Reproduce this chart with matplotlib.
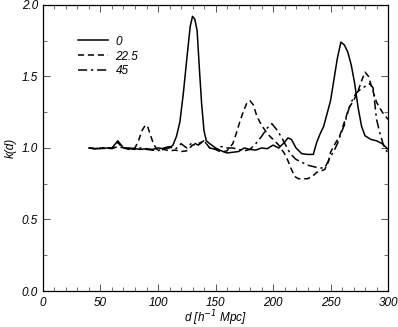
import matplotlib
matplotlib.use("Agg")
import matplotlib.pyplot as plt
from matplotlib.ticker import MultipleLocator

# angle 0 (solid)
d_0 = [40, 45, 50, 55, 60, 63, 65, 67, 70, 75, 80, 85, 90, 95, 100,
       105, 110, 113, 116, 119, 122, 125, 128, 130, 132, 134, 136, 138, 140, 142, 145,
       150, 155, 160, 165, 170, 175, 180, 185, 190, 195, 200, 205, 210,
       213, 216, 220, 225, 230, 235, 238, 241, 244, 247, 250, 253, 256, 259, 262, 265,
       268, 271, 274, 277, 280, 285, 290, 295, 300]
k_0 = [1.0, 0.995, 0.995, 1.0, 1.0, 1.03, 1.05, 1.03, 1.0, 1.0, 0.995, 0.99, 0.995, 0.99, 1.0,
       0.995, 1.0, 1.02, 1.08, 1.18, 1.38, 1.62, 1.85, 1.92, 1.9, 1.82, 1.55, 1.3, 1.12, 1.05, 1.03,
       1.0, 0.98, 0.965, 0.97, 0.975, 1.0, 0.99, 0.985, 1.0, 0.995, 1.02, 1.0, 1.04,
       1.07, 1.06, 1.0, 0.96, 0.955, 0.955, 1.04, 1.1, 1.15, 1.24, 1.33, 1.48, 1.63, 1.74, 1.72, 1.67,
       1.58, 1.45, 1.28, 1.15, 1.085, 1.06, 1.05, 1.03, 0.99]

# angle 22.5 (dashed)
d_22 = [40, 45, 50, 55, 60, 63, 65, 67, 70, 75, 80, 83, 86, 89, 91, 93, 96, 99,
        102, 105, 110, 115, 120, 125, 130, 135, 140, 145, 150, 155, 160, 165, 168, 171, 174, 177, 180,
        183, 186, 190, 195, 200, 205, 210, 213, 216, 219, 222, 226, 230, 234, 238,
        242, 245, 248, 250, 254, 258, 262, 266, 270, 274, 277, 280, 283, 286, 290, 295, 300]
k_22 = [1.0, 0.995, 1.0, 0.995, 1.0, 1.02, 1.04, 1.02, 1.0, 0.99, 1.0, 1.05, 1.12, 1.16, 1.15, 1.1, 1.03, 0.99,
        0.985, 0.99, 0.98, 0.985, 0.975, 0.98, 1.02, 1.03, 1.05, 1.0, 0.99, 0.97, 0.98, 1.03, 1.1, 1.18, 1.25, 1.31, 1.33,
        1.3, 1.22, 1.16, 1.1, 1.06, 1.02, 0.96, 0.91, 0.85, 0.8, 0.785, 0.785, 0.785, 0.8, 0.83,
        0.84, 0.85, 0.9, 0.97, 1.03, 1.085, 1.18, 1.28, 1.33, 1.4, 1.47, 1.53, 1.5, 1.42, 1.32, 1.25, 1.2]

# angle 45 (dash-dot)
d_45 = [40, 45, 50, 55, 60, 65, 70, 75, 80, 85, 90, 95, 100,
        105, 110, 115, 120, 125, 130, 135, 140, 145, 150, 155, 160, 165, 170, 175, 180, 185, 190, 195,
        199, 203, 207, 211, 215, 220, 225, 230, 235, 240, 245, 250,
        253, 256, 259, 262, 265, 268, 272, 276, 280, 284, 287, 290, 293, 296, 300]
k_45 = [1.0, 0.995, 1.0, 1.0, 0.995, 1.01, 1.0, 0.995, 0.99, 1.0, 0.99, 0.985, 0.98,
        1.0, 1.01, 0.99, 1.03, 1.0, 1.04, 1.02, 1.05, 1.0, 0.99, 1.01, 1.0, 1.0, 0.99, 0.98, 0.99, 1.03, 1.08, 1.14,
        1.17, 1.13, 1.08, 1.02, 0.96, 0.92, 0.9, 0.88, 0.87, 0.86, 0.86, 0.94,
        0.98, 1.03, 1.1, 1.16, 1.25, 1.32, 1.38, 1.41, 1.43, 1.45, 1.42, 1.2, 1.1, 1.02, 0.96]

labels = ["0", "22.5", "45"]

plt.rcParams['font.family'] = ['Liberation Sans', 'DejaVu Sans']
plt.rcParams['font.style'] = 'italic'

fig = plt.figure(figsize=(3.98, 3.27), dpi=100)
ax = fig.add_axes([0.108, 0.11, 0.867, 0.875])

ax.plot(d_0, k_0, color="black", lw=1.1, ls="-", label=labels[0])
ax.plot(d_22, k_22, color="black", lw=1.1, ls=(0, (4, 2.5)), label=labels[1])
ax.plot(d_45, k_45, color="black", lw=1.1, ls=(0, (6, 2.5, 1.5, 2.5)), label=labels[2])

ax.set_xlim(0, 300)
ax.set_ylim(0, 2.0)
ax.xaxis.set_major_locator(MultipleLocator(50))
ax.xaxis.set_minor_locator(MultipleLocator(10))
ax.yaxis.set_major_locator(MultipleLocator(0.5))
ax.yaxis.set_minor_locator(MultipleLocator(0.25))
ax.tick_params(which="both", direction="in", top=True, right=True, labelsize=8.5, color="#555555")
ax.tick_params(which="major", length=5, width=0.7)
ax.tick_params(which="minor", length=3, width=0.6)
ax.tick_params(axis="x", pad=4)
ax.xaxis.set_major_formatter(plt.FuncFormatter(lambda v, p: "%d" % v))
ax.yaxis.set_major_formatter(plt.FuncFormatter(lambda v, p: "%.1f" % v))
for s in ax.spines.values():
    s.set_linewidth(0.9)

ax.set_xlabel(r"d [h$^{-1}$ Mpc]", fontsize=8.5, labelpad=0)
ax.set_ylabel("k(d)", fontsize=8.5, labelpad=4)

ax.legend(loc="upper left", bbox_to_anchor=(0.07, 0.93), frameon=False, fontsize=8.5,
          handlelength=2.6, labelspacing=0.25, handletextpad=0.6)

fig.savefig("out.png", dpi=100)
